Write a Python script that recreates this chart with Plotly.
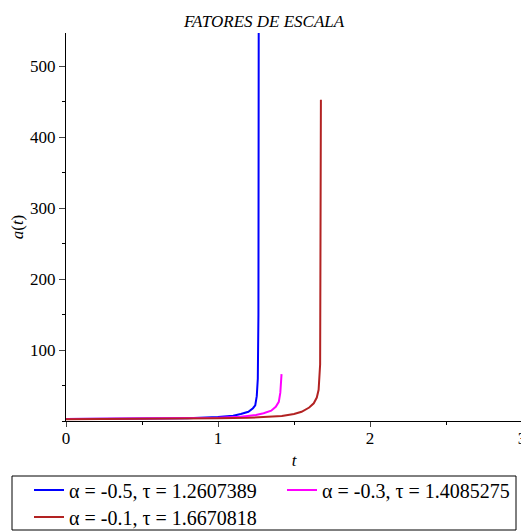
import plotly.graph_objects as go

# Data
t_blue = [0, 0.4, 0.8, 1.0, 1.1, 1.15, 1.2, 1.23, 1.245, 1.255, 1.262, 1.266, 1.268]
a_blue = [2.8, 3.2, 4.0, 5.5, 7.5, 10, 13, 18, 22, 35, 60, 150, 600]

t_mag = [0, 0.4, 0.8, 1.0, 1.15, 1.25, 1.3, 1.35, 1.38, 1.4, 1.41, 1.418]
a_mag = [2.8, 3.2, 3.8, 4.5, 6, 8.5, 11, 14.5, 20, 27, 40, 66]

t_brown = [0, 0.4, 0.8, 1.0, 1.2, 1.3, 1.42, 1.5, 1.55, 1.6, 1.63, 1.65, 1.662, 1.672, 1.675, 1.677]
a_brown = [2.5, 2.8, 3.3, 3.8, 4.5, 5.2, 7, 10, 13, 19, 25, 33, 44, 80, 200, 453]

names = ["α = -0.5, τ = 1.2607389", "α = -0.3, τ = 1.4085275", "α = -0.1, τ = 1.6670818"]
colors = ["#0000FF", "#FF00FF", "#B22222"]

x_ticks = [0, 1, 2, 3]
y_ticks = [100, 200, 300, 400, 500]

FONT = "Liberation Serif"
# the page body has an 8px margin, so the figure is sized to fill the rest of the window
OFF = 8
W, H = 529 - OFF, 532 - OFF
ML, MR, MT, MB = 66 - OFF, 7, 33 - OFF, 111
PW, PH = W - ML - MR, H - MT - MB

legend_ids = ["legend", "legend2", "legend3"]
legend_pos = [(21 / W, 1 - (490 - OFF) / H), (274 / W, 1 - (490 - OFF) / H), (21 / W, 1 - (517 - OFF) / H)]

fig = go.Figure()
for t, a, n, c, lid in zip([t_blue, t_mag, t_brown], [a_blue, a_mag, a_brown],
                           names, colors, legend_ids):
    fig.add_trace(go.Scatter(x=t, y=a, mode="lines", name=n, legend=lid,
                             line=dict(color=c, width=2)))

legend_common = dict(orientation="h", xref="container", yref="container",
                     xanchor="left", yanchor="middle", borderwidth=0,
                     bgcolor="rgba(0,0,0,0)", font=dict(size=20, family=FONT, color="black"))
legends = {}
for lid, (lx, ly) in zip(legend_ids, legend_pos):
    legends[lid] = dict(legend_common, x=lx, y=ly)

fig.update_layout(
    width=W, height=H,
    margin=dict(l=ML, r=MR, t=MT, b=MB),
    paper_bgcolor="white", plot_bgcolor="white",
    font=dict(family=FONT, color="black", size=17),
    title=dict(text="<i>FATORES DE ESCALA</i>", x=(264 - OFF) / W, xanchor="center", xref="container",
               y=1 - (21 - OFF) / H, yanchor="middle", yref="container", font=dict(size=17, family=FONT)),
    showlegend=True,
    **legends,
)
# legend frame
fig.add_shape(type="rect", xref="paper", yref="paper",
              x0=(12 - 66) / PW, x1=(516 - 66) / PW,
              y0=(421 - 530) / PH, y1=(421 - 476) / PH,
              line=dict(color="black", width=1), fillcolor="rgba(0,0,0,0)", layer="above")

fig.update_xaxes(range=[0, 3], tickvals=x_ticks, ticks="outside", ticklen=5,
                 showline=True, linecolor="black", linewidth=1, showgrid=False,
                 zeroline=False, automargin=False, ticklabelstandoff=-3,
                 tickfont=dict(size=17, family=FONT, color="black"),
                 minor=dict(dtick=0.5, ticks="outside", ticklen=3, tickcolor="black"),
                 title=dict(text="<i>t</i>", font=dict(size=17, family=FONT), standoff=6))
fig.update_yaxes(range=[0, 547], tickvals=y_ticks, ticks="outside", ticklen=6,
                 showline=True, linecolor="black", linewidth=1, showgrid=False,
                 zeroline=False, automargin=False,
                 tickfont=dict(size=17, family=FONT, color="black"),
                 minor=dict(dtick=50, ticks="outside", ticklen=3, tickcolor="black"),
                 title=dict(text="<i>a</i>(<i>t</i>)", font=dict(size=17, family=FONT), standoff=2))

fig.write_html("out.html")
